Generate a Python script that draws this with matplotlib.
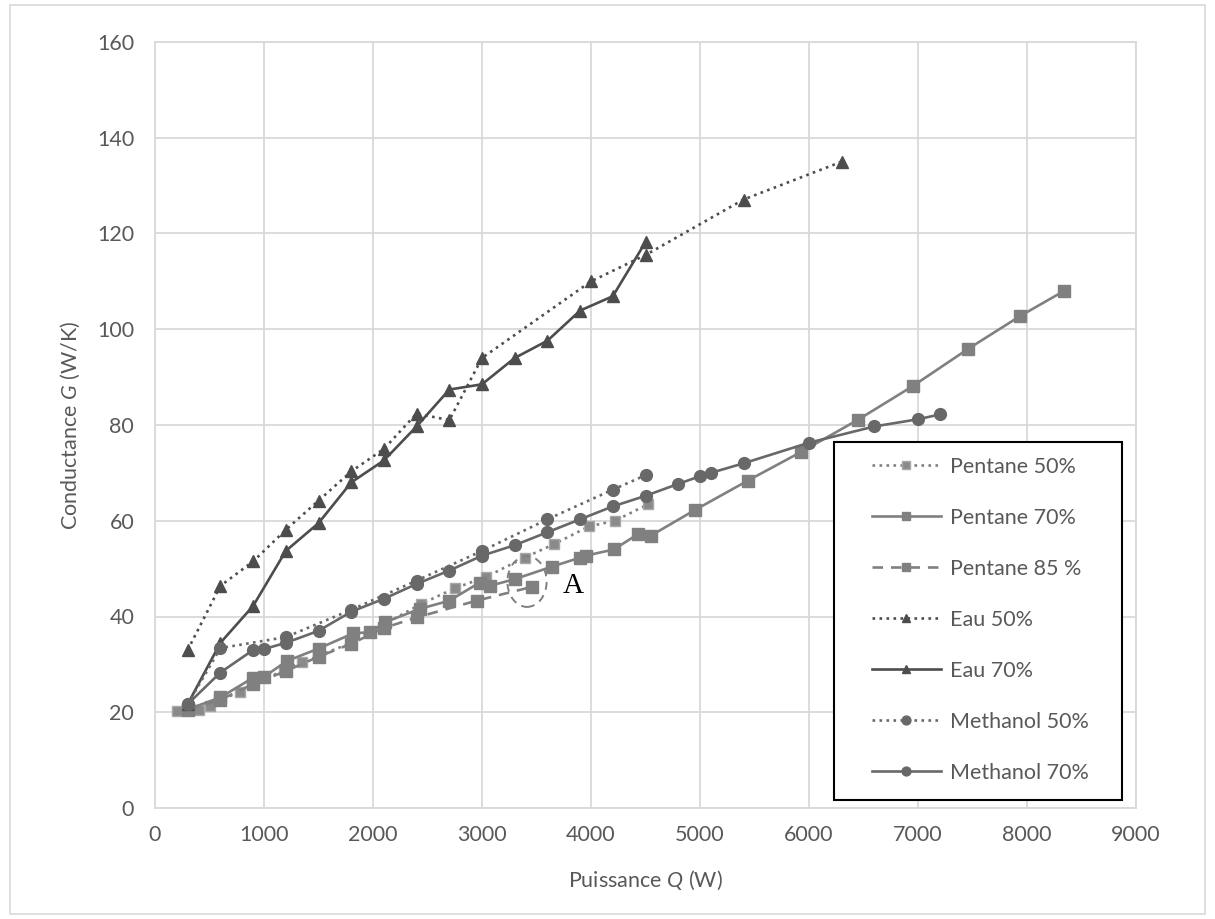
import matplotlib
matplotlib.use("Agg")
import matplotlib.pyplot as plt
from matplotlib.patches import Rectangle, Ellipse

# data (Q in W, G in W/K)
pentane50_q = [200, 400, 500, 600, 780, 1180, 1350, 1500, 1800, 2110, 2440, 2750, 3040, 3390, 3660, 3980, 4220, 4520]
pentane50_g = [20.3, 20.5, 21.3, 22.5, 24.3, 28.8, 30.4, 31.8, 34.5, 38.5, 42.6, 45.9, 48.3, 52.3, 55.1, 58.8, 60.0, 63.4]

pentane70_q = [300, 600, 900, 1000, 1210, 1500, 1820, 1970, 2110, 2430, 2700, 2980, 3070, 3300, 3640, 3900, 3950,
               4210, 4430, 4550, 4950, 5440, 5930, 6450, 6950, 7460, 7940, 8340]
pentane70_g = [20.6, 23.1, 27.2, 27.4, 30.7, 33.3, 36.5, 36.7, 38.8, 41.6, 43.3, 47.1, 46.4, 47.8, 50.4, 52.3, 52.7,
               54.0, 57.2, 56.9, 62.2, 68.4, 74.4, 81.1, 88.1, 95.9, 102.8, 108.0]

pentane85_q = [300, 600, 900, 1200, 1500, 1800, 2100, 2400, 2950, 3460]
pentane85_g = [20.5, 22.6, 25.9, 28.6, 31.6, 34.3, 37.6, 39.8, 43.3, 46.2]

eau50_q = [300, 600, 900, 1200, 1500, 1800, 2100, 2400, 2700, 3000, 4000, 4500, 5400, 6300]
eau50_g = [33.0, 46.4, 51.5, 58.1, 64.2, 70.3, 75.0, 82.4, 81.0, 94.0, 110.0, 115.5, 127.1, 135.0]

eau70_q = [300, 600, 900, 1200, 1500, 1800, 2100, 2400, 2700, 3000, 3300, 3600, 3900, 4200, 4500]
eau70_g = [21.7, 34.5, 42.2, 53.7, 59.5, 68.0, 72.6, 79.7, 87.4, 88.5, 94.0, 97.6, 103.9, 106.9, 118.2]

meth50_q = [300, 600, 1200, 1800, 2400, 3000, 3600, 4200, 4500]
meth50_g = [21.7, 33.4, 35.7, 41.4, 47.5, 53.7, 60.3, 66.5, 69.5]

meth70_q = [300, 600, 900, 1000, 1200, 1500, 1800, 2100, 2400, 2700, 3000, 3300, 3600, 3900, 4200, 4500,
            4800, 5000, 5100, 5400, 6000, 6600, 7000, 7200]
meth70_g = [21.7, 28.3, 33.0, 33.2, 34.5, 37.0, 41.0, 43.7, 46.8, 49.6, 52.7, 54.9, 57.6, 60.3, 63.0, 65.2,
            67.7, 69.3, 70.0, 72.0, 76.3, 79.7, 81.2, 82.2]

labels = ["Pentane 50%", "Pentane 70%", "Pentane 85 %", "Eau 50%", "Eau 70%", "Methanol 50%", "Methanol 70%"]

# zone "A" marked on the chart
zone_center = (3413, 47.3)
zone_w, zone_h = 360, 10.6
zone_label = "A"
zone_label_pos = (3745, 46.4)

plt.rcParams['font.family'] = ['Lato', 'DejaVu Sans']
plt.rcParams['mathtext.fontset'] = 'custom'
plt.rcParams['mathtext.rm'] = 'Lato'
plt.rcParams['mathtext.it'] = 'Lato:italic'

txt = '#595959'
grid = '#d9d9d9'
c_pent = '#808080'
c_eau = '#4d4d4d'
c_meth = '#686868'
fs = 15.5

fig = plt.figure(figsize=(12.15, 9.19), dpi=100)
ax = fig.add_axes([155/1215, 1-808/919, (1136-155)/1215, (808-42)/919])

lw = 1.9
ax.plot(pentane50_q, pentane50_g, ls=':', lw=lw, color=c_pent, marker='s', ms=7,
        mfc='#8a8a8a', mec='#a8a8a8', mew=1, label=labels[0])
ax.plot(pentane70_q, pentane70_g, ls='-', lw=lw, color=c_pent, marker='s', ms=8,
        mfc=c_pent, mec=c_pent, label=labels[1])
ax.plot(pentane85_q, pentane85_g, ls=(0, (4, 3)), lw=lw, color=c_pent, marker='s', ms=8,
        mfc=c_pent, mec=c_pent, label=labels[2])
ax.plot(eau50_q, eau50_g, ls=':', lw=lw, color=c_eau, marker='^', ms=8.5,
        mfc=c_eau, mec=c_eau, label=labels[3])
ax.plot(eau70_q, eau70_g, ls='-', lw=lw, color=c_eau, marker='^', ms=8.5,
        mfc=c_eau, mec=c_eau, label=labels[4])
ax.plot(meth50_q, meth50_g, ls=':', lw=lw, color=c_meth, marker='o', ms=8.5,
        mfc=c_meth, mec=c_meth, label=labels[5])
ax.plot(meth70_q, meth70_g, ls='-', lw=lw, color=c_meth, marker='o', ms=8.5,
        mfc=c_meth, mec=c_meth, label=labels[6])

ax.add_patch(Ellipse(zone_center, zone_w, zone_h, fill=False, ls=(0, (4, 3)),
                     lw=1.4, edgecolor=c_pent, zorder=5))
ax.text(zone_label_pos[0], zone_label_pos[1], zone_label, family='Liberation Serif',
        fontsize=21, color='black', va='center', ha='left')

ax.set_xlim(0, 9000)
ax.set_ylim(0, 160)
ax.set_xticks(range(0, 9001, 1000))
ax.set_yticks(range(0, 161, 20))
ax.grid(True, color=grid, lw=1.3)
ax.set_axisbelow(True)
for s in ax.spines.values():
    s.set_color(grid)
    s.set_linewidth(1.3)
ax.tick_params(length=0, labelsize=fs, labelcolor=txt)
ax.tick_params(axis='y', pad=15)
ax.tick_params(axis='x', pad=12)

ax.set_xlabel(r'Puissance $Q$ (W)', fontsize=fs, color=txt, labelpad=17)
ax.set_ylabel(r'Conductance $G$ (W/K)', fontsize=fs, color=txt, labelpad=11)

# legend box
fig.add_artist(Rectangle((834/1215, 1-800/919), (1122-834)/1215, (800-442)/919,
                         transform=fig.transFigure, facecolor='white',
                         edgecolor='black', lw=1.5, zorder=4))
handles, labs = ax.get_legend_handles_labels()
leg = fig.legend(handles, labs, loc='upper left', bbox_to_anchor=(872/1215, 1-457/919),
                 frameon=False, fontsize=fs, handlelength=3.2, handletextpad=0.4,
                 labelspacing=1.44, borderpad=0, borderaxespad=0, markerscale=0.75)
leg.set_zorder(5)
for t in leg.get_texts():
    t.set_color(txt)

# outer chart border
fig.add_artist(Rectangle((10/1215, 5/919), 1195/1215, 909/919, transform=fig.transFigure,
                         fill=False, edgecolor=grid, lw=1.2, zorder=0))

fig.savefig('out.png', dpi=100)
